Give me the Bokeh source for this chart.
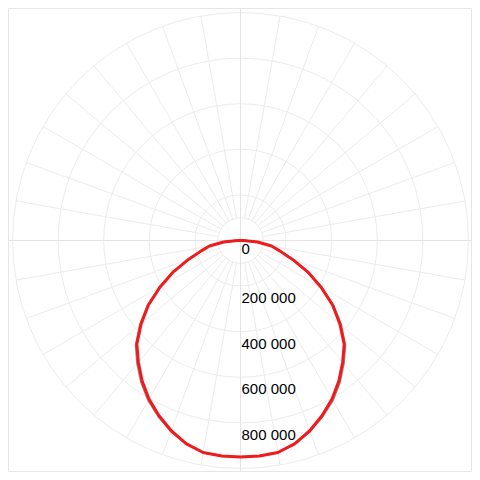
import numpy as np
from bokeh.plotting import figure
from bokeh.models import Range1d, ColumnDataSource
from bokeh.core.properties import value
from bokeh.embed import file_html
from bokeh.resources import INLINE

# ---- data (candela vs. gamma angle, symmetric curve) ----
gamma_deg = [0, 5, 10, 15, 20, 25, 30, 35, 40, 45, 50, 55, 60, 65, 70, 75, 80, 85, 90]
plane_a_cd = [950000, 949000, 944000, 922000, 888000, 847000, 803000, 752000, 697000, 643000,
              569000, 493000, 407000, 325000, 243000, 180000, 138000, 75000, 13000]
plane_b_cd = [950000, 949000, 944000, 923000, 891000, 852000, 810000, 760000, 705000, 650000,
              576000, 498000, 410000, 326000, 243000, 180000, 138000, 75000, 13000]
ring_values = [200000, 400000, 600000, 800000, 1000000]
inner_ring = 100000
tick_values = [0, 200000, 400000, 600000, 800000]
tick_labels = ["0", "200 000", "400 000", "600 000", "800 000"]
spoke_angles = [a for a in range(0, 360, 10) if a % 90 != 0]

# ---- layout ----
R_MAX = 1000000
PX_R = 228.0            # pixels for R_MAX
HALF = 232.0 * R_MAX / PX_R
PXU = R_MAX / PX_R      # data units per pixel

p = figure(width=472, height=472, output_backend="svg", toolbar_location=None,
           x_range=Range1d(-HALF, HALF), y_range=Range1d(-HALF, HALF),
           x_axis_location=None, y_axis_location=None,
           min_border_left=8, min_border_top=8, min_border_right=0, min_border_bottom=0)
p.grid.visible = False
p.outline_line_color = "#e6e6e6"
p.outline_line_width = 1
p.background_fill_color = "white"
p.border_fill_color = "white"

grid_col = "#ececec"

# rings
p.circle(x=[0] * len(ring_values), y=[0] * len(ring_values), radius=ring_values,
         fill_color=None, line_color=grid_col, line_width=1)
p.circle(x=[0], y=[0], radius=[inner_ring], fill_color=None, line_color=grid_col, line_width=1)

# spokes
ang = np.radians(spoke_angles)
p.segment(x0=inner_ring * np.cos(ang), y0=inner_ring * np.sin(ang),
          x1=R_MAX * np.cos(ang), y1=R_MAX * np.sin(ang),
          line_color=grid_col, line_width=1)
# main axes lines through centre
p.segment(x0=[-HALF, 0], y0=[0, -HALF], x1=[HALF, 0], y1=[0, HALF],
          line_color="#e4e4e4", line_width=1)


def curve(vals):
    g = np.radians(np.array(gamma_deg, dtype=float))
    v = np.array(vals, dtype=float)
    gg = np.concatenate([-g[::-1], g[1:]])
    vv = np.concatenate([v[::-1], v[1:]])
    x = vv * np.sin(gg)
    y = -vv * np.cos(gg)
    x = np.append(x, x[0])
    y = np.append(y, y[0])
    return x, y


xb, yb = curve(plane_b_cd)
p.line(xb, yb, line_color="#8a6060", line_width=2, line_alpha=0.8)
xa, ya = curve(plane_a_cd)
p.line(xa, ya, line_color="#ee1c1c", line_width=3, line_join="round")

# radial tick labels
src = ColumnDataSource(dict(x=[1 * PXU] * len(tick_values),
                            y=[-v - 3 * PXU for v in tick_values],
                            t=tick_labels))
p.text(x="x", y="y", text="t", source=src, text_baseline="top", text_align="left",
       text_font=value("Liberation Sans"), text_font_size="15px", text_color="#000000")

open("out.html", "w").write(file_html(p, INLINE))
